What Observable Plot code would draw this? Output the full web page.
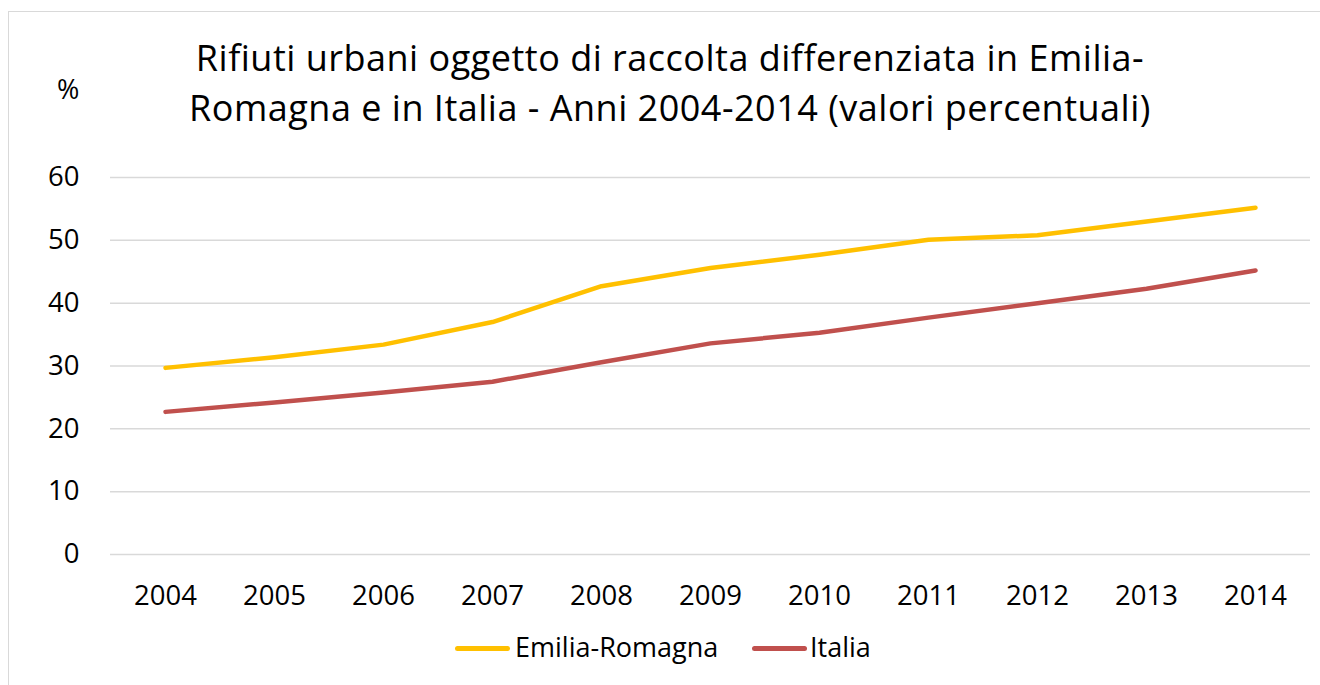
<!DOCTYPE html>
<html>
<head>
<meta charset="utf-8">
<script src="https://cdn.jsdelivr.net/npm/d3@7"></script>
<script src="https://cdn.jsdelivr.net/npm/@observablehq/plot@0.6"></script>
<style>
  html, body { margin: 0; padding: 0; background: #fff; }
  #wrap { position: relative; width: 1320px; height: 685px; overflow: hidden; font-family: "Open Sans", sans-serif; color: #000; }
  #frame { position: absolute; left: 8px; top: 11px; width: 1400px; height: 800px; border: 1.5px solid #d9d9d9; box-sizing: border-box; }
  #title { position: absolute; left: 120px; width: 1100px; top: 33px; text-align: center; font-size: 36px; letter-spacing: 0.5px; line-height: 50px; }
  #pct { position: absolute; left: 57px; top: 70px; font-size: 27px; }
  #chart { position: absolute; left: 0; top: 140px; }
  .sw { position: absolute; top: 646px; height: 5px; border-radius: 3px; }
  .lt { position: absolute; top: 629px; font-size: 27px; line-height: 36px; }
</style>
</head>
<body>
<div id="wrap">
  <div id="frame"></div>
  <div id="title">Rifiuti urbani oggetto di raccolta differenziata in Emilia-<br>Romagna e in Italia - Anni 2004-2014 (valori percentuali)</div>
  <div id="pct">%</div>
  <div id="chart"></div>
  <div class="sw" id="sw1"></div><div class="lt" id="lt1"></div>
  <div class="sw" id="sw2"></div><div class="lt" id="lt2"></div>
</div>
<script>
const years = ["2004","2005","2006","2007","2008","2009","2010","2011","2012","2013","2014"];
const emiliaRomagna = [29.7, 31.4, 33.4, 37.0, 42.7, 45.6, 47.7, 50.1, 50.8, 53.0, 55.2];
const italia = [22.7, 24.2, 25.8, 27.5, 30.6, 33.6, 35.3, 37.7, 40.0, 42.3, 45.2];
const seriesNames = ["Emilia-Romagna", "Italia"];
const seriesColors = ["#FFC000", "#C0504D"];
const yTicks = [0, 10, 20, 30, 40, 50, 60];

const data = [];
years.forEach((y, i) => {
  data.push({year: y, value: emiliaRomagna[i], serie: seriesNames[0]});
  data.push({year: y, value: italia[i], serie: seriesNames[1]});
});

const chart = Plot.plot({
  width: 1320,
  height: 500,
  marginLeft: 110,
  marginRight: 10,
  marginTop: 37,
  marginBottom: 86,
  style: {fontFamily: "'Open Sans', sans-serif", fontSize: "27px", color: "#000", background: "transparent"},
  x: {type: "point", domain: years, range: [164.5, 1255.5], padding: 0, label: null},
  y: {domain: [0, 60], label: null},
  color: {domain: seriesNames, range: seriesColors},
  marks: [
    Plot.ruleY(yTicks, {stroke: "#d9d9d9", strokeWidth: 1.5}),
    Plot.axisX({tickSize: 0, tickPadding: 31, label: null, fontSize: 27.5}),
    Plot.axisY(yTicks, {tickSize: 0, tickPadding: 31, label: null, fontSize: 27.5}),
    Plot.line(data, {x: "year", y: "value", z: "serie", stroke: "serie", strokeWidth: 4.5, strokeLinecap: "round", strokeLinejoin: "round"})
  ]
});
document.getElementById("chart").appendChild(chart);

const sw = [["sw1", 455, 55], ["sw2", 752, 55]];
const lt = [["lt1", 515], ["lt2", 810]];
sw.forEach(([id, l, w], i) => {
  const e = document.getElementById(id);
  e.style.left = l + "px"; e.style.width = w + "px"; e.style.background = seriesColors[i];
});
lt.forEach(([id, l], i) => {
  const e = document.getElementById(id);
  e.style.left = l + "px"; e.textContent = seriesNames[i];
});
</script>
</body>
</html>
